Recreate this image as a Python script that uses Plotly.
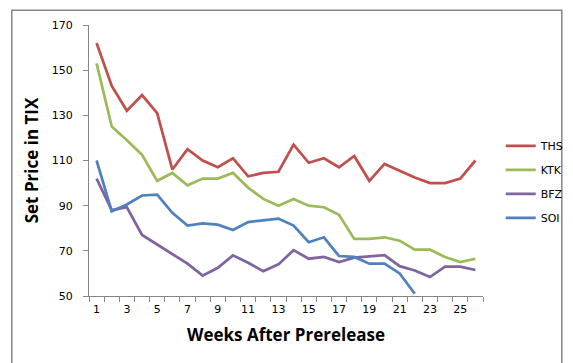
import plotly.graph_objects as go

weeks = list(range(1, 27))
ths = [162, 143, 132, 139, 131, 106, 115, 110, 107, 111, 103, 104.5, 105, 117, 109, 111, 107, 112, 101, 108.5, 105.5, 102.5, 100, 100, 102, 110]
ktk = [153, 125, 119, 112.5, 101, 104.5, 99, 102, 102, 104.5, 98, 93, 90, 93, 90, 89.3, 86, 75.3, 75.3, 76, 74.5, 70.5, 70.5, 67.3, 65, 66.5]
bfz = [102, 88, 89.3, 77, 72.8, 68.4, 64.3, 59, 62.5, 68, 64.7, 61, 64, 70.3, 66.5, 67.3, 65, 67, 67.7, 68.1, 63.2, 61.3, 58.4, 63, 63, 61.5]
soi = [110, 87.5, 90.5, 94.5, 94.9, 86.8, 81.2, 82.2, 81.6, 79.2, 82.7, 83.6, 84.3, 81.2, 73.8, 76, 67.7, 67.3, 64.3, 64.3, 60, 51]

series = [("THS", ths, "#C0504D"), ("KTK", ktk, "#9BBB59"), ("BFZ", bfz, "#8064A2"), ("SOI", soi, "#4F81BD")]

fig = go.Figure()
for name, vals, col in series:
    fig.add_trace(go.Scatter(x=weeks[:len(vals)], y=vals, name=name, mode="lines",
                             line=dict(color=col, width=2.75), legendgroup=name))

axis_col = "#868686"
fig.update_layout(
    width=573, height=363,
    margin=dict(l=81, r=85, t=17, b=75),
    paper_bgcolor="white", plot_bgcolor="white",
    font=dict(family="DejaVu Sans", size=11, color="black"),
    showlegend=True,
    legend=dict(x=1.045, y=0.421, yanchor="middle", xanchor="left", font=dict(size=11),
                tracegroupgap=5, itemwidth=30, bgcolor="rgba(0,0,0,0)"),
    xaxis=dict(range=[0.5, 26.5], tickvals=list(range(1, 27, 2)), ticks="outside", ticklen=5,
               tickcolor="rgba(0,0,0,0)", showgrid=False,
               zeroline=False, showline=True, linecolor=axis_col, linewidth=1,
               minor=dict(tickvals=[i + 0.5 for i in range(0, 27)], ticks="outside", ticklen=5,
                          tickcolor=axis_col, showgrid=False),
               ticklabelstandoff=-2,
               title=dict(text="<b>Weeks After Prerelease</b>", font=dict(family="Open Sans", size=17), standoff=13)),
    yaxis=dict(range=[50, 170], tickvals=list(range(50, 171, 20)), ticks="outside", ticklen=5,
               tickcolor=axis_col, showgrid=False, zeroline=False, showline=True,
               linecolor=axis_col, linewidth=1, ticklabelstandoff=8,
               title=dict(text="<b>Set Price in TIX</b>", font=dict(family="Open Sans", size=17), standoff=8)),
)
fig.add_shape(type="rect", xref="paper", yref="paper", x0=-0.196, x1=1.2, y0=-0.265, y1=1.054,
              line=dict(color=axis_col, width=1.5), layer="below")
fig.write_html("out.html")
